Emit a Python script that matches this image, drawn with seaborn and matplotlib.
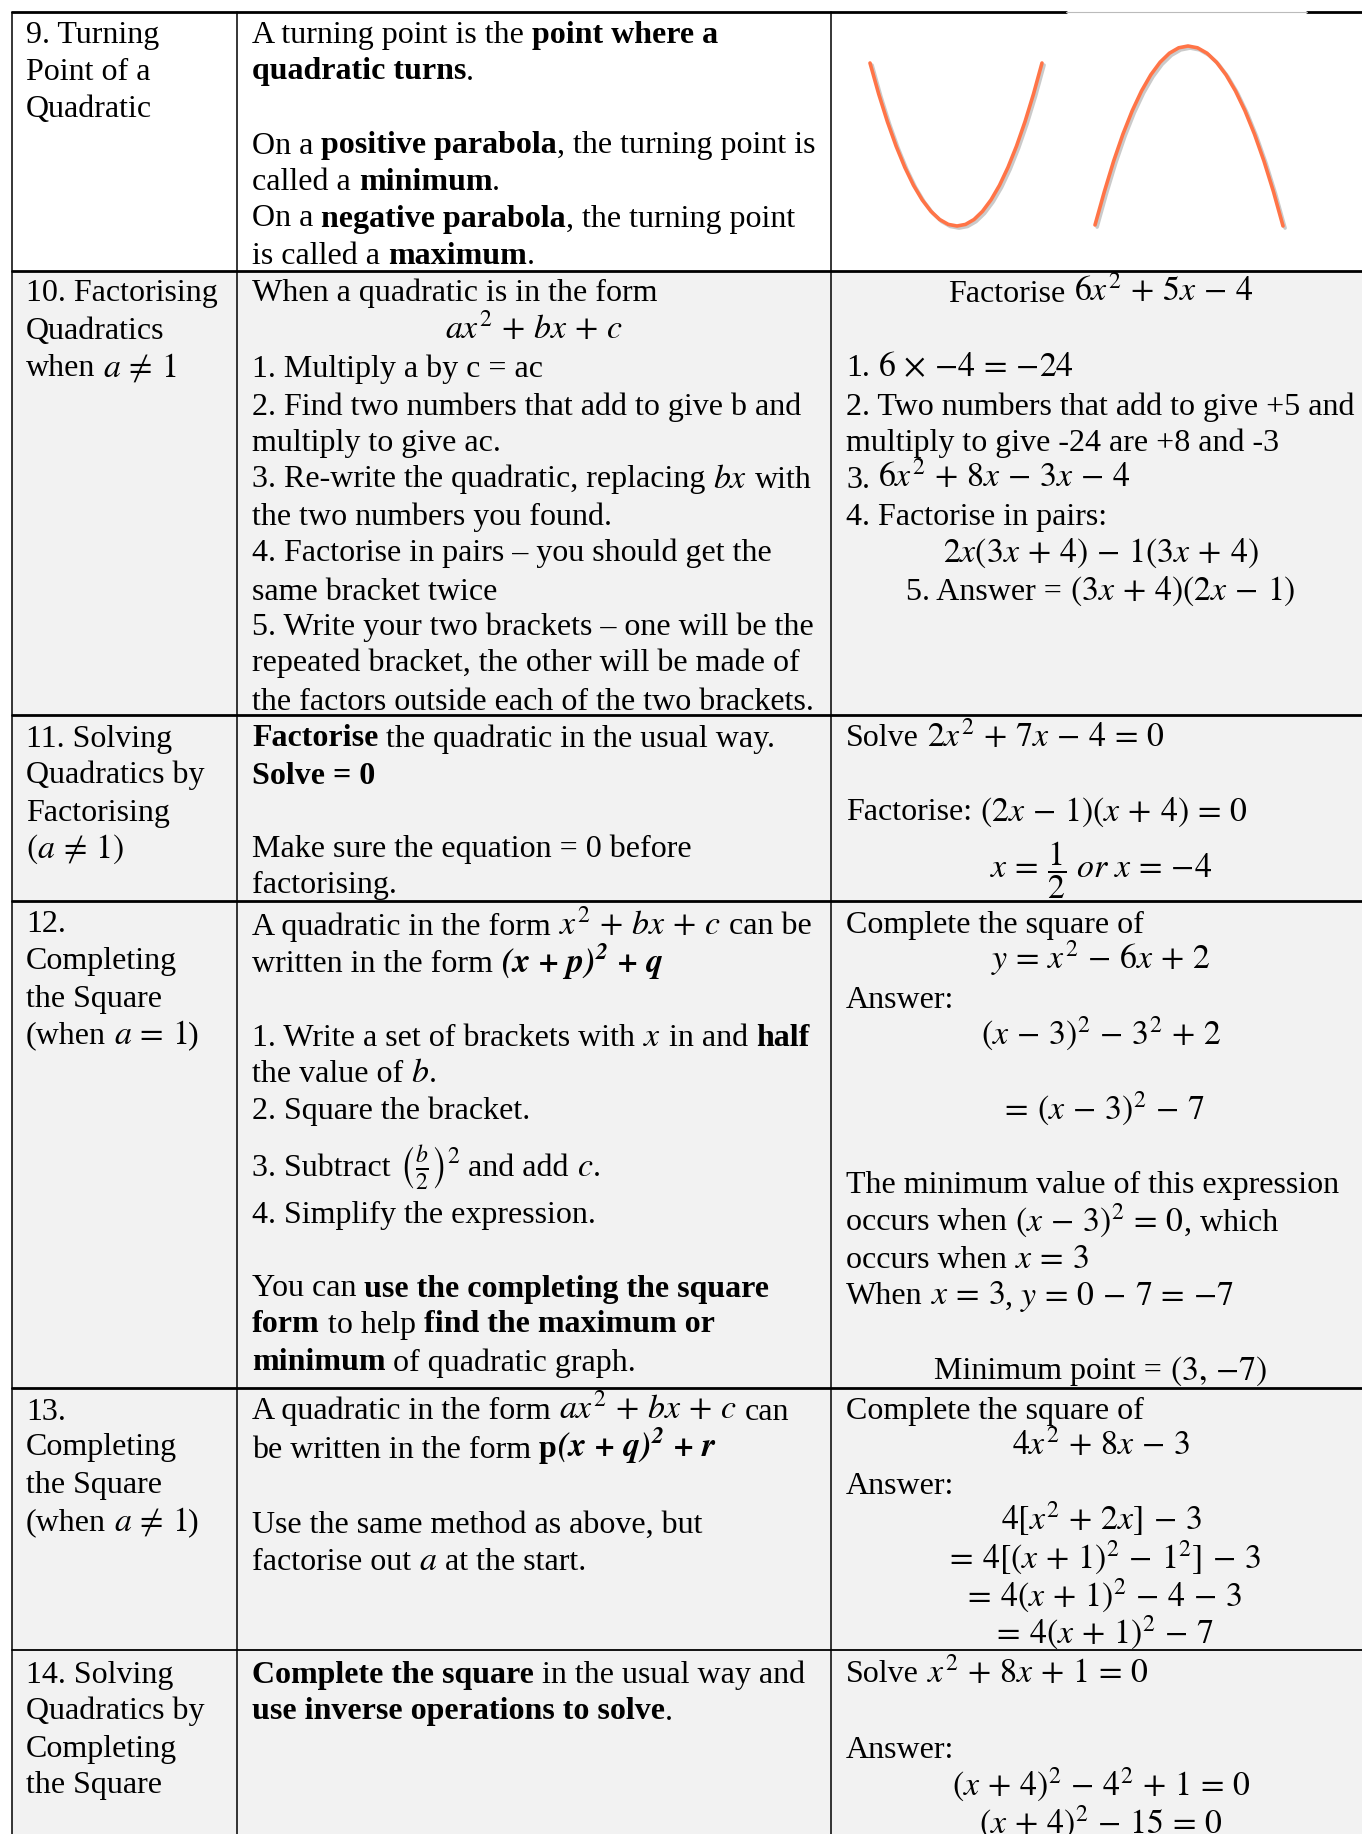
import matplotlib
matplotlib.use("Agg")
import matplotlib.pyplot as plt
import matplotlib.patheffects as pe
import seaborn as sns

sns.set_style("white")
plt.rcParams["font.family"] = ["Liberation Serif", "DejaVu Serif"]
plt.rcParams["mathtext.fontset"] = "stix"

W, H = 1362, 1834
FS = 23                      # points, about 32 px at dpi 100
MF = 1.06                    # maths is set a little larger (Cambria Math in the original)
SP = 0.25 * FS * 100 / 72    # width of a space in px
DY = 3.5                     # baseline nudge
GREY = "#f2f2f2"
ORANGE = "#ff7447"

# table grid (pixels)
COL_X = [12, 237, 831]
ROW_Y = [12, 271, 715, 901, 1388, 1650]
CENTER3 = 1101

# parabolas (pixel positions)
up_x = [870, 878.7, 887.4, 896.1, 904.8, 913.5, 922.2, 930.9, 939.6, 948.3, 957,
        965.5, 974, 982.5, 991, 999.5, 1008, 1016.5, 1025, 1033.5, 1042]
up_y = [63, 94, 121.7, 146.1, 167.3, 185.3, 199.9, 211.3, 219.5, 224.4, 226,
        224.4, 219.5, 211.3, 199.9, 185.3, 167.3, 146.1, 121.7, 94, 63]
down_x = [1095, 1104.3, 1113.6, 1122.9, 1132.2, 1141.5, 1150.8, 1160.1, 1169.4, 1178.7, 1188,
          1197.5, 1207, 1216.5, 1226, 1235.5, 1245, 1254.5, 1264, 1273.5, 1283]
down_y = [225, 191.8, 161.2, 134.2, 110.8, 91, 74.8, 62.2, 53.2, 47.8, 46,
          47.8, 53.2, 62.2, 74.8, 91, 110.8, 134.2, 161.2, 191.8, 226]

# cell text: (baseline y, runs) where a run is (text, bold)
col1 = [
    (40, [("9. Turning", 0)]), (77, [("Point of a", 0)]), (114, [("Quadratic", 0)]),
    (298, [("10. Factorising", 0)]), (336, [("Quadratics", 0)]), (373, [(r"when $a \neq 1$", 0)]),
    (743, [("11. Solving", 0)]), (780, [("Quadratics by", 0)]), (817, [("Factorising", 0)]),
    (854, [(r"$(a \neq 1)$", 0)]),
    (929, [("12.", 0)]), (966, [("Completing", 0)]), (1004, [("the Square", 0)]),
    (1040, [(r"(when $a = 1$)", 0)]),
    (1416, [("13.", 0)]), (1452, [("Completing", 0)]), (1490, [("the Square", 0)]),
    (1527, [(r"(when $a \neq 1$)", 0)]),
    (1679, [("14. Solving", 0)]), (1716, [("Quadratics by", 0)]), (1754, [("Completing", 0)]),
    (1790, [("the Square", 0)]),
]

col2 = [
    (40, [("A turning point is the ", 0), ("point where a", 1)]),
    (76, [("quadratic turns", 1), (".", 0)]),
    (150, [("On a ", 0), ("positive parabola", 1), (", the turning point is", 0)]),
    (186, [("called a ", 0), ("minimum", 1), (".", 0)]),
    (223, [("On a ", 0), ("negative parabola", 1), (", the turning point", 0)]),
    (260, [("is called a ", 0), ("maximum", 1), (".", 0)]),
    (298, [("When a quadratic is in the form", 0)]),
    (373, [("1. Multiply a by c = ac", 0)]),
    (411, [("2. Find two numbers that add to give b and", 0)]),
    (447, [("multiply to give ac.", 0)]),
    (484, [("3. Re-write the quadratic, replacing $bx$ with", 0)]),
    (522, [("the two numbers you found.", 0)]),
    (558, [("4. Factorise in pairs \u2013 you should get the", 0)]),
    (596, [("same bracket twice", 0)]),
    (632, [("5. Write your two brackets \u2013 one will be the", 0)]),
    (668, [("repeated bracket, the other will be made of", 0)]),
    (706, [("the factors outside each of the two brackets.", 0)]),
    (743, [("Factorise", 1), (" the quadratic in the usual way.", 0)]),
    (780, [("Solve = 0", 1)]),
    (854, [("Make sure the equation = 0 before", 0)]),
    (890, [("factorising.", 0)]),
    (931, [("A quadratic in the form $x^2+bx+c$ can be", 0)]),
    (969, [(r"written in the form $\mathbfit{(x+p)^2+q}$", 0)]),
    (1043, [("1. Write a set of brackets with $x$ in and ", 0), ("half", 1)]),
    (1079, [("the value of $b$.", 0)]),
    (1116, [("2. Square the bracket.", 0)]),
    (1172, [(r"3. Subtract $\left(\frac{b}{2}\right)^2$ and add $c$.", 0)]),
    (1219, [("4. Simplify the expression.", 0)]),
    (1293, [("You can ", 0), ("use the completing the square", 1)]),
    (1329, [("form", 1), (" to help ", 0), ("find the maximum or", 1)]),
    (1367, [("minimum", 1), (" of quadratic graph.", 0)]),
    (1416, [("A quadratic in the form $ax^2+bx+c$ can", 0)]),
    (1454, [("be written in the form ", 0), ("p", 1), (r"$\mathbfit{(x+q)^2+r}$", 0)]),
    (1529, [("Use the same method as above, but", 0)]),
    (1566, [("factorise out $a$ at the start.", 0)]),
    (1679, [("Complete the square", 1), (" in the usual way and", 0)]),
    (1716, [("use inverse operations to solve", 1), (".", 0)]),
]

col2_centered = [(336, [("$ax^2+bx+c$", 0)])]

col3 = [
    (373, [(r"1. $6 \times -4 = -24$", 0)]),
    (411, [("2. Two numbers that add to give +5 and", 0)]),
    (447, [("multiply to give -24 are +8 and -3", 0)]),
    (484, [("3. $6x^2+8x-3x-4$", 0)]),
    (522, [("4. Factorise in pairs:", 0)]),
    (743, [("Solve $2x^2+7x-4=0$", 0)]),
    (817, [("Factorise: $(2x-1)(x+4)=0$", 0)]),
    (929, [("Complete the square of", 0)]),
    (1004, [("Answer:", 0)]),
    (1190, [("The minimum value of this expression", 0)]),
    (1227, [("occurs when $(x-3)^2=0$, which", 0)]),
    (1265, [("occurs when $x=3$", 0)]),
    (1301, [("When $x=3$, $y=0-7=-7$", 0)]),
    (1416, [("Complete the square of", 0)]),
    (1490, [("Answer:", 0)]),
    (1679, [("Solve $x^2+8x+1=0$", 0)]),
    (1754, [("Answer:", 0)]),
]

col3_centered = [
    (298, [("Factorise $6x^2+5x-4$", 0)]),
    (558, [("$2x(3x+4)-1(3x+4)$", 0)]),
    (596, [("5. Answer = $(3x+4)(2x-1)$", 0)]),
    (875, [(r"$x=\dfrac{1}{2}\ or\ x=-4$", 0)]),
    (966, [("$y=x^2-6x+2$", 0)]),
    (1040, [("$(x-3)^2-3^2+2$", 0)]),
    (1115, [("$=(x-3)^2-7$", 0)]),
    (1376, [(r"Minimum point = $(3,\,-7)$", 0)]),
    (1452, [("$4x^2+8x-3$", 0)]),
    (1527, [("$4[x^2+2x]-3$", 0)]),
    (1564, [("$=4[(x+1)^2-1^2]-3$", 0)]),
    (1602, [("$=4(x+1)^2-4-3$", 0)]),
    (1639, [("$=4(x+1)^2-7$", 0)]),
    (1791, [("$(x+4)^2-4^2+1=0$", 0)]),
    (1829, [("$(x+4)^2-15=0$", 0)]),
]


def space_ops(s):
    # wider gaps round operators, like Word's equation editor
    out, prev, i = [], "", 0
    while i < len(s):
        for cmd in (r"\neq", r"\times"):
            if s.startswith(cmd, i):
                out.append(r"\," + cmd + r"\,")
                i += len(cmd)
                prev = "#"
                break
        else:
            c = s[i]
            if c in "+=":
                out.append(r"\," + c + r"\,")
                prev = "#"
            elif c == "-":
                binary = prev and (prev.isalnum() or prev in ")]}")
                out.append(r"\,-\," if binary else "{-}")
                prev = "#"
            else:
                out.append(c)
                if c != " ":
                    prev = c
            i += 1
    return "".join(out)


def split_runs(runs):
    pieces = []
    for txt, bold in runs:
        for k, part in enumerate(txt.split("$")):
            if not part:
                continue
            if k % 2:
                pieces.append(("$" + space_ops(part) + "$", 0, True, 0, 0))
            else:
                lead = (len(part) - len(part.lstrip(" "))) * SP
                trail = (len(part) - len(part.rstrip(" "))) * SP
                pieces.append((part.strip(" "), bold, False, lead, trail))
    return pieces


def draw_line(ax, x, y, runs, ha="left"):
    renderer = ax.figure.canvas.get_renderer()
    items, total = [], 0
    for txt, bold, is_math, lead, trail in split_runs(runs):
        t = ax.text(0, y + DY, txt, fontsize=FS * MF if is_math else FS,
                    va="baseline", ha="left",
                    fontweight="bold" if bold else "normal", color="black")
        w = t.get_window_extent(renderer).width if txt else 0
        items.append((t, lead, w, trail))
        total += lead + w + trail
    cur = x - total / 2 if ha == "center" else x
    for t, lead, w, trail in items:
        cur += lead
        t.set_x(cur)
        cur += w + trail


fig = plt.figure(figsize=(W / 100, H / 100), dpi=100)
ax = fig.add_axes([0, 0, 1, 1])
ax.set_xlim(0, W)
ax.set_ylim(H, 0)
ax.axis("off")

# grey rows from row 10 down
ax.add_patch(plt.Rectangle((COL_X[0], ROW_Y[1]), W - COL_X[0], H - ROW_Y[1],
                           facecolor=GREY, edgecolor="none", zorder=0))

# grid lines
ax.plot([COL_X[0], 1066], [ROW_Y[0], ROW_Y[0]], color="black", lw=2, zorder=3)
ax.plot([1307, W], [ROW_Y[0], ROW_Y[0]], color="black", lw=2, zorder=3)
ax.plot([1066, 1307], [ROW_Y[0], ROW_Y[0]], color="#bbbbbb", lw=0.8, zorder=3)
for y in ROW_Y[1:]:
    ax.plot([COL_X[0], W], [y, y], color="black", lw=2 if y != 1650 else 1.3, zorder=3)
for x in COL_X:
    ax.plot([x, x], [ROW_Y[0], H], color="black", lw=1.1, zorder=3)

# parabolas
shadow = [pe.SimpleLineShadow(offset=(1.5, -1.5), shadow_color="#bdbdbd", alpha=0.8), pe.Normal()]
for xs, ys in [(up_x, up_y), (down_x, down_y)]:
    sns.lineplot(x=xs, y=ys, ax=ax, sort=False, estimator=None, color=ORANGE,
                 linewidth=2.6, path_effects=shadow, zorder=2)

for y, runs in col1:
    draw_line(ax, 26, y, runs)
for y, runs in col2:
    draw_line(ax, 252, y, runs)
for y, runs in col2_centered:
    draw_line(ax, (COL_X[1] + COL_X[2]) / 2, y, runs, ha="center")
for y, runs in col3:
    draw_line(ax, 846, y, runs)
for y, runs in col3_centered:
    draw_line(ax, CENTER3, y, runs, ha="center")

fig.savefig("out.png", dpi=100, facecolor="white")
